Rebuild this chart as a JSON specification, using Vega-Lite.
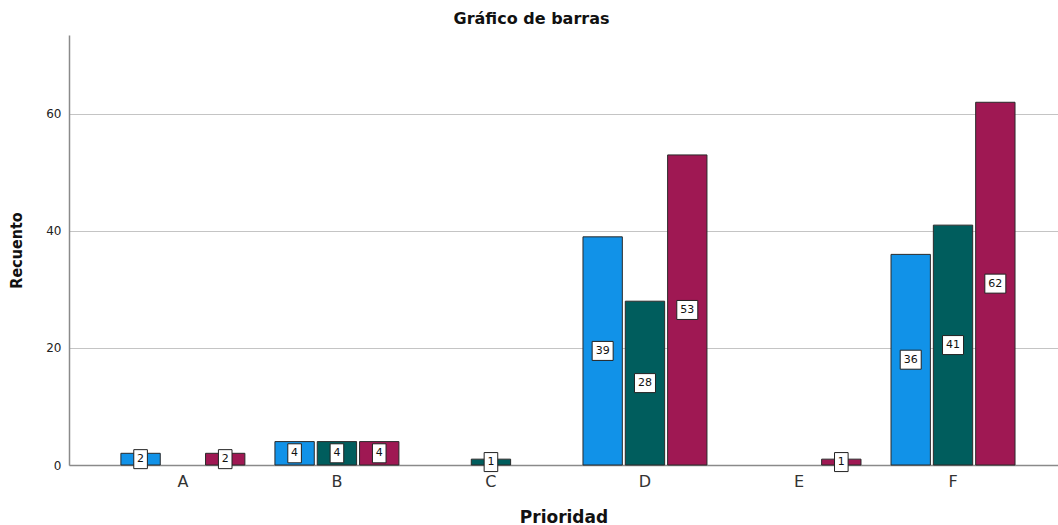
{
  "$schema": "https://vega.github.io/schema/vega-lite/v6.json",
  "width": 989,
  "height": 430,
  "autosize": {"type": "none"},
  "padding": {"left": 69, "top": 35, "right": 0, "bottom": 60},
  "background": "white",
  "title": {
    "text": "Gráfico de barras",
    "font": "DejaVu Sans",
    "fontSize": 16,
    "fontWeight": "bold",
    "color": "#111111",
    "anchor": "middle",
    "frame": "group",
    "dx": -32,
    "baseline": "middle",
    "offset": 0
  },
  "data": {
    "values": [
      {"Prioridad": "A", "Grupo": "Serie 1", "n": 2},
      {"Prioridad": "A", "Grupo": "Serie 3", "n": 2},
      {"Prioridad": "B", "Grupo": "Serie 1", "n": 4},
      {"Prioridad": "B", "Grupo": "Serie 2", "n": 4},
      {"Prioridad": "B", "Grupo": "Serie 3", "n": 4},
      {"Prioridad": "C", "Grupo": "Serie 2", "n": 1},
      {"Prioridad": "D", "Grupo": "Serie 1", "n": 39},
      {"Prioridad": "D", "Grupo": "Serie 2", "n": 28},
      {"Prioridad": "D", "Grupo": "Serie 3", "n": 53},
      {"Prioridad": "E", "Grupo": "Serie 3", "n": 1},
      {"Prioridad": "F", "Grupo": "Serie 1", "n": 36},
      {"Prioridad": "F", "Grupo": "Serie 2", "n": 41},
      {"Prioridad": "F", "Grupo": "Serie 3", "n": 62}
    ]
  },
  "transform": [{"calculate": "datum.n / 2", "as": "mid"}],
  "encoding": {
    "x": {
      "field": "Prioridad",
      "type": "nominal",
      "sort": ["A", "B", "C", "D", "E", "F"],
      "scale": {"domain": ["A", "B", "C", "D", "E", "F"], "paddingInner": 0.195, "paddingOuter": 0.308, "align": 0.547},
      "axis": {
        "title": "Prioridad",
        "labelAngle": 0,
        "ticks": false,
        "domainColor": "#8a8a8a",
        "domainWidth": 1.5,
        "labelFont": "DejaVu Sans",
        "labelFontSize": 16,
        "labelColor": "#333333",
        "labelPadding": 8,
        "titleFont": "DejaVu Sans",
        "titleFontSize": 17,
        "titleFontWeight": "bold",
        "titleColor": "#111111",
        "titlePadding": 20
      }
    },
    "xOffset": {
      "field": "Grupo",
      "type": "nominal",
      "scale": {"domain": ["Serie 1", "Serie 2", "Serie 3"], "paddingInner": 0.07, "paddingOuter": 0}
    }
  },
  "layer": [
    {
      "mark": {"type": "bar", "stroke": "#2a2a2a", "strokeWidth": 1},
      "encoding": {
        "y": {
          "field": "n",
          "type": "quantitative",
          "scale": {"domain": [0, 73.5], "nice": false},
          "axis": {
            "title": "Recuento",
            "values": [0, 20, 40, 60],
            "ticks": false,
            "grid": true,
            "gridColor": "#c4c4c4",
            "gridWidth": 1,
            "domainColor": "#8a8a8a",
            "domainWidth": 1.5,
            "labelFont": "DejaVu Sans",
            "labelFontSize": 12,
            "labelColor": "#222222",
            "labelPadding": 8,
            "titleFont": "DejaVu Sans Condensed, Liberation Sans, sans-serif",
            "titleFontSize": 16,
            "titleFontWeight": "bold",
            "titleColor": "#111111",
            "titlePadding": 21
          }
        },
        "color": {
          "field": "Grupo",
          "type": "nominal",
          "scale": {"domain": ["Serie 1", "Serie 2", "Serie 3"], "range": ["#1192e8", "#005d5d", "#9f1853"]},
          "legend": null
        }
      }
    },
    {
      "mark": {"type": "point", "filled": true, "fill": "white", "stroke": "#222222", "strokeWidth": 1, "opacity": 1, "size": 400},
      "encoding": {
        "y": {"field": "mid", "type": "quantitative"},
        "shape": {
          "condition": {"test": "datum.n >= 10", "value": "M-1.05,-0.95L1.05,-0.95L1.05,0.95L-1.05,0.95Z"},
          "value": "M-0.68,-0.95L0.68,-0.95L0.68,0.95L-0.68,0.95Z"
        }
      }
    },
    {
      "mark": {"type": "text", "font": "DejaVu Sans", "fontSize": 11, "color": "#111111", "baseline": "middle", "align": "center"},
      "encoding": {
        "y": {"field": "mid", "type": "quantitative"},
        "text": {"field": "n", "type": "quantitative"}
      }
    }
  ],
  "config": {"view": {"stroke": null}}
}
